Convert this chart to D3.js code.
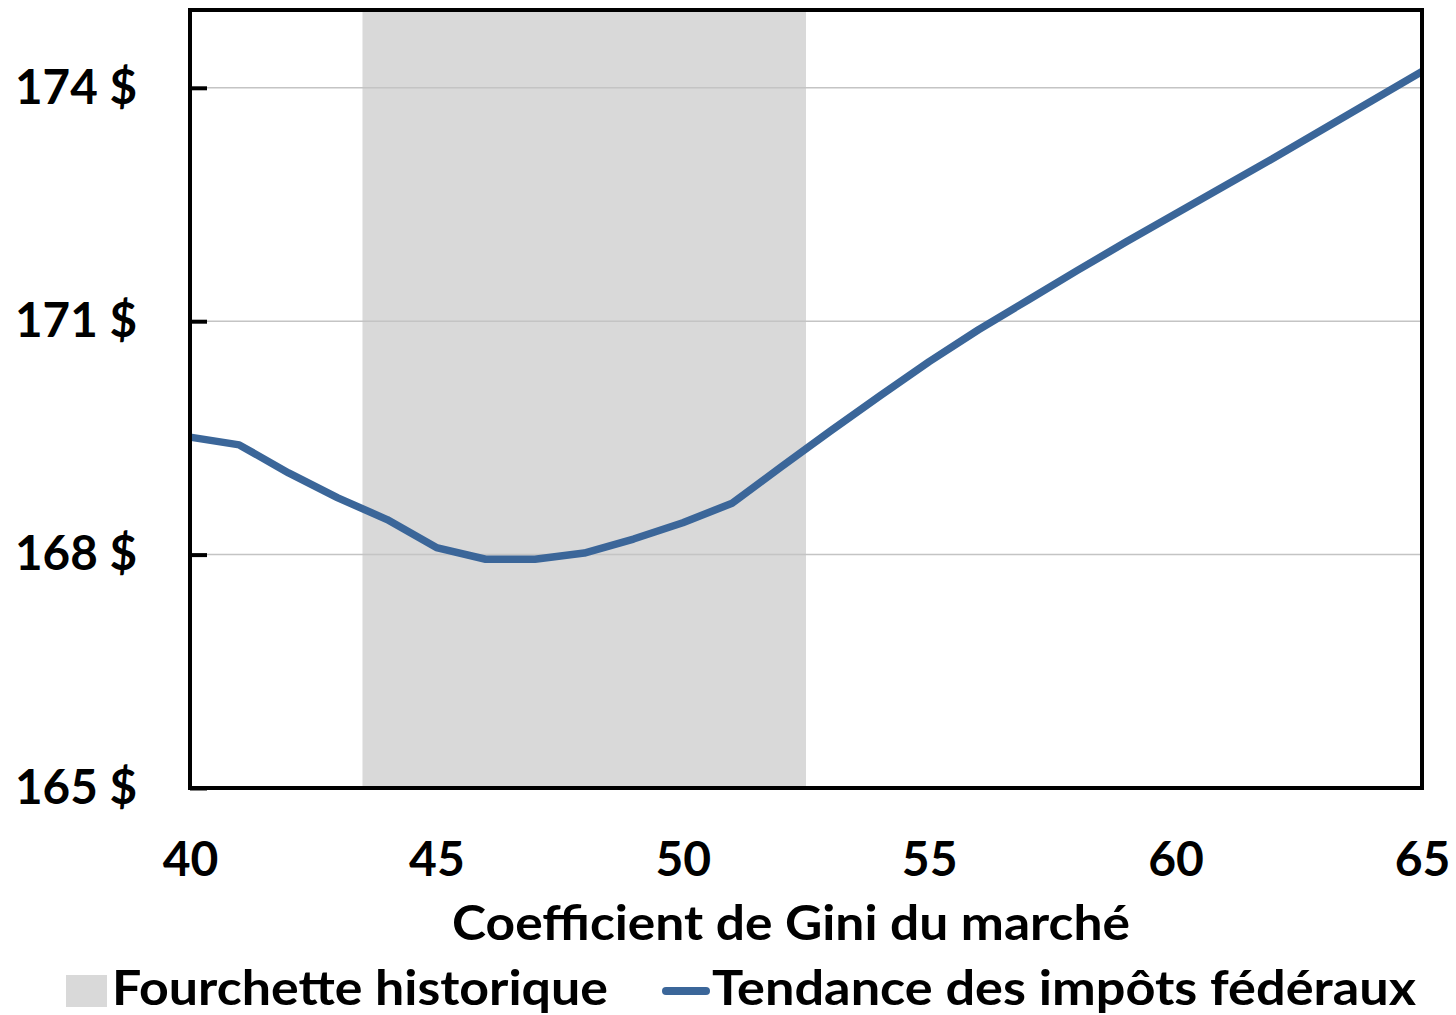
<!DOCTYPE html>
<meta charset="utf-8">
<style>
body { margin: 0; background: #fff; }
text { font-family: Lato, "Open Sans", sans-serif; font-weight: bold; fill: #000; }
.grid line { stroke: #c4c4c4; stroke-width: 1.5px; }
.line { fill: none; stroke: #3b6699; stroke-width: 7.5px; stroke-linejoin: round; }
</style>
<div id="chart"></div>
<script src="https://d3js.org/d3.v7.min.js"></script>
<script>
// market Gini coefficient
var gini = [40, 41, 42, 43, 44, 45, 46, 47, 48, 49, 50, 51, 52,
            53, 54, 55, 56, 57, 58, 59, 60, 61, 62, 63, 64, 65];
// federal tax trend ($)
var taxes = [169.51, 169.41, 169.05, 168.73, 168.45, 168.09, 167.94, 167.94, 168.02,
             168.20, 168.41, 168.66, 169.13, 169.59, 170.04, 170.48, 170.89, 171.27,
             171.65, 172.02, 172.38, 172.74, 173.10, 173.47, 173.84, 174.21];
var historicRange = [43.5, 52.5];
var yTicks = [165, 168, 171, 174];
var xTicks = [40, 45, 50, 55, 60, 65];

var margin = {top: 10, right: 34, bottom: 227, left: 190},
    width = 1456 - margin.left - margin.right,
    height = 1015 - margin.top - margin.bottom;

var x = d3.scaleLinear().domain([40, 65]).range([0, width]);
var y = d3.scaleLinear().domain([165, 175]).range([height, 0]);

var svg = d3.select("#chart").append("svg")
    .attr("width", 1456)
    .attr("height", 1015);
var g = svg.append("g")
    .attr("transform", "translate(" + margin.left + "," + margin.top + ")");

// shaded historic range
g.append("rect")
    .attr("x", x(historicRange[0]))
    .attr("y", 0)
    .attr("width", x(historicRange[1]) - x(historicRange[0]))
    .attr("height", height)
    .attr("fill", "#d9d9d9");

// gridlines
g.append("g").attr("class", "grid")
  .selectAll("line")
  .data(yTicks.slice(1))
  .enter().append("line")
    .attr("x1", 0).attr("x2", width)
    .attr("y1", function(d) { return y(d); })
    .attr("y2", function(d) { return y(d); });

// line
var valueline = d3.line()
    .x(function(d, i) { return x(gini[i]); })
    .y(function(d) { return y(d); });
g.append("path")
    .datum(taxes)
    .attr("class", "line")
    .attr("d", valueline);

// frame
g.append("rect")
    .attr("width", width).attr("height", height)
    .attr("fill", "none").attr("stroke", "#000").attr("stroke-width", 4);

// y axis: inward ticks, labels
var yAxis = d3.axisLeft(y).tickValues(yTicks).tickSize(-17).tickPadding(53)
    .tickFormat(function(d) { return d + " $"; });
g.append("g").call(yAxis)
    .call(function(s) {
      s.select(".domain").remove();
      s.selectAll(".tick line").attr("stroke", "#000").attr("stroke-width", 4);
      s.selectAll(".tick text").attr("font-size", 48).attr("dy", "0.32em")
        .attr("textLength", 122).attr("lengthAdjust", "spacingAndGlyphs")
        .style("font-family", "Lato, sans-serif");
    });

// x axis labels only
var xAxis = d3.axisBottom(x).tickValues(xTicks).tickSize(0).tickPadding(54);
g.append("g").attr("transform", "translate(0," + height + ")").call(xAxis)
    .call(function(s) {
      s.select(".domain").remove();
      s.selectAll(".tick text").attr("font-size", 48)
        .style("font-family", "Lato, sans-serif");
    });

// x axis title
svg.append("text")
    .attr("x", 791).attr("y", 940)
    .attr("text-anchor", "middle")
    .attr("font-size", 48)
    .attr("textLength", 678).attr("lengthAdjust", "spacingAndGlyphs")
    .text("Coefficient de Gini du marché");

// legend
svg.append("rect")
    .attr("x", 66).attr("y", 975).attr("width", 41).attr("height", 32)
    .attr("fill", "#d9d9d9");
svg.append("text")
    .attr("x", 112).attr("y", 1005).attr("font-size", 48)
    .attr("textLength", 496).attr("lengthAdjust", "spacingAndGlyphs")
    .text("Fourchette historique");
svg.append("line")
    .attr("x1", 666).attr("x2", 706).attr("y1", 991).attr("y2", 991)
    .attr("stroke", "#3b6699").attr("stroke-width", 8).attr("stroke-linecap", "round");
svg.append("text")
    .attr("x", 712).attr("y", 1005).attr("font-size", 48)
    .attr("textLength", 704).attr("lengthAdjust", "spacingAndGlyphs")
    .text("Tendance des impôts fédéraux");
</script>
